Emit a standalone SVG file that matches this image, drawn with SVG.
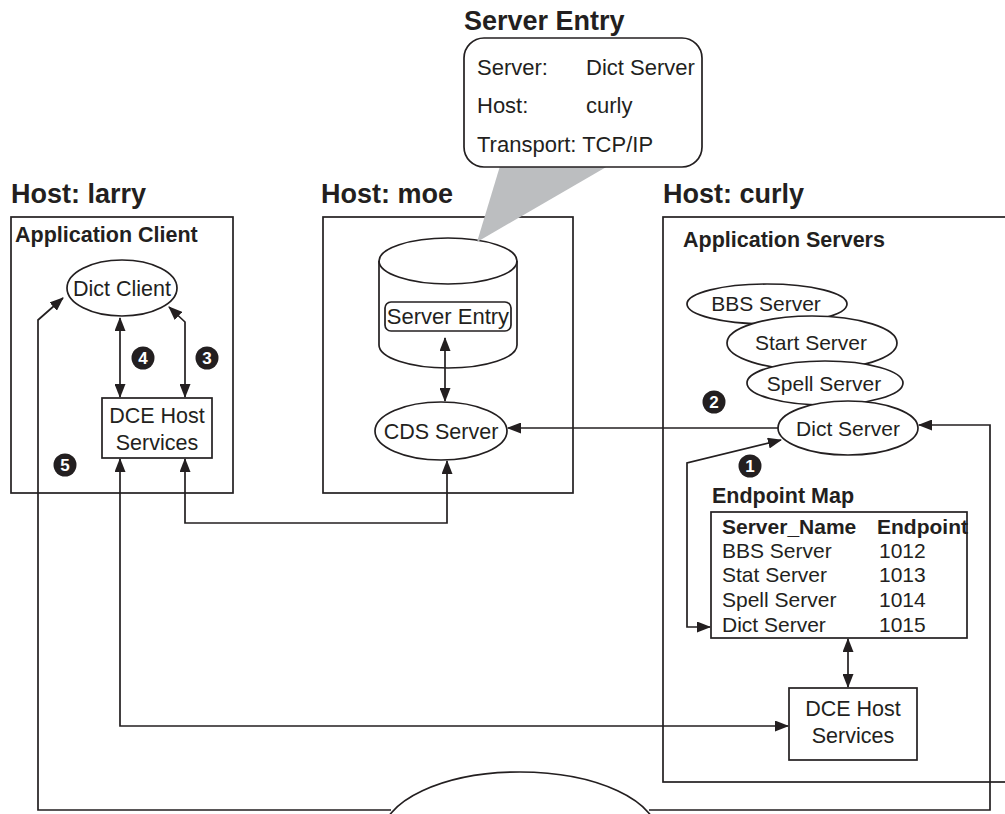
<svg xmlns="http://www.w3.org/2000/svg" width="1005" height="814" viewBox="0 0 1005 814">
<style>
text{font-family:"Liberation Sans",Arial,sans-serif;fill:#231f20}
.t{font-size:27px;font-weight:bold}
.h{font-size:21.5px;font-weight:bold}
.n{font-size:21px}
.k{font-size:22px}
.m{text-anchor:middle}
.b{fill:#fff;stroke:#231f20;stroke-width:1.7}
.c{fill:none;stroke:#231f20;stroke-width:1.7}
.badge circle{fill:#231f20}
.badge text{fill:#fff;font-size:17px;font-weight:bold;text-anchor:middle}
</style>
<defs>
<marker id="ah" viewBox="0 0 14 11" refX="13" refY="5.5" markerWidth="14" markerHeight="11" markerUnits="userSpaceOnUse" orient="auto-start-reverse">
<path d="M0,0 L14,5.5 L0,11 Z" fill="#231f20"/>
</marker>
</defs>
<rect width="1005" height="814" fill="#fff"/>

<g id="host-larry">
<text class="t" x="11" y="203">Host: larry</text>
<rect class="b" x="11" y="217" width="222" height="276"/>
<text class="h" x="15" y="242">Application Client</text>
</g>
<g id="host-moe">
<text class="t" x="321" y="203">Host: moe</text>
<rect class="b" x="323" y="217" width="250" height="276"/>
</g>
<g id="host-curly">
<text class="t" x="663" y="203">Host: curly</text>
<rect class="b" x="663" y="217" width="360" height="565"/>
<text class="h" x="683" y="247">Application Servers</text>
</g>

<g id="cds-db">
<path class="b" d="M379,261 L379,345 A69,23 0 0 0 517,345 L517,261 A69,23 0 0 0 379,261 Z"/>
<path class="c" d="M379,261 A69,23 0 0 0 517,261"/>
<rect class="b" x="385" y="302" width="126" height="29" rx="6"/>
<text class="m" x="448" y="324" font-size="22">Server Entry</text>
</g>

<g id="server-entry-callout">
<text class="t" x="464" y="30">Server Entry</text>
<polygon points="500,166 608,166 477,242" fill="#bcbec0"/>
<rect class="b" x="464" y="38" width="238" height="129" rx="20"/>
<text class="k" x="477" y="75">Server:</text>
<text class="k" x="586" y="75">Dict Server</text>
<text class="k" x="477" y="113">Host:</text>
<text class="k" x="586" y="113">curly</text>
<text class="k" x="477" y="152">Transport: TCP/IP</text>
</g>

<g id="network">
<ellipse class="b" cx="520" cy="836" rx="138" ry="64"/>
</g>

<g id="connectors" class="c">
<path d="M120,318 L120,397" marker-start="url(#ah)" marker-end="url(#ah)"/>
<path d="M169,307 L185,322 L185,397" marker-start="url(#ah)" marker-end="url(#ah)"/>
<path d="M391,810 L38,810 L38,320 L63,298" marker-end="url(#ah)"/>
<path d="M185,459 L185,523 L447,523 L447,461" marker-start="url(#ah)" marker-end="url(#ah)"/>
<path d="M120,459 L120,726 L788,726" marker-start="url(#ah)" marker-end="url(#ah)"/>
<path d="M445,338 L445,401" marker-start="url(#ah)" marker-end="url(#ah)"/>
<path d="M778,428 L508,428" marker-end="url(#ah)"/>
<path d="M649,810 L990,810 L990,425 L919,425" marker-end="url(#ah)"/>
<path d="M781,440 L687,463 L687,627 L710,627" marker-start="url(#ah)" marker-end="url(#ah)"/>
<path d="M848,639 L848,687" marker-start="url(#ah)" marker-end="url(#ah)"/>
</g>

<g id="dict-client">
<ellipse class="b" cx="122" cy="288" rx="55" ry="28"/>
<text class="m" x="122" y="296" font-size="21.5">Dict Client</text>
</g>
<g id="dce-larry">
<rect class="b" x="102" y="398" width="110" height="60"/>
<text class="m" x="157" y="423" font-size="21.5">DCE Host</text>
<text class="m" x="157" y="450" font-size="21.5">Services</text>
</g>
<g id="cds-server">
<ellipse class="b" cx="441" cy="431" rx="66" ry="29"/>
<text class="m" x="441" y="439" font-size="21.5">CDS Server</text>
</g>

<g id="bbs-server">
<ellipse class="b" cx="767" cy="304" rx="80" ry="20"/>
<text class="n m" x="766" y="311">BBS Server</text>
</g>
<g id="start-server">
<ellipse class="b" cx="812" cy="343" rx="85" ry="27"/>
<text class="n m" x="811" y="350">Start Server</text>
</g>
<g id="spell-server">
<ellipse class="b" cx="825" cy="383" rx="78" ry="22"/>
<text class="n m" x="824" y="391">Spell Server</text>
</g>
<g id="dict-server">
<ellipse class="b" cx="848" cy="428" rx="70" ry="27"/>
<text class="n m" x="848" y="436">Dict Server</text>
</g>

<g id="endpoint-map">
<text class="h" x="712" y="503">Endpoint Map</text>
<rect class="b" x="711" y="512" width="256" height="126"/>
<text class="n" x="722" y="534" font-weight="bold" font-size="20.5">Server_Name</text>
<text class="n" x="877" y="534" font-weight="bold" font-size="20.5">Endpoint</text>
<text class="n" x="722" y="558">BBS Server</text>
<text class="n" x="879" y="558">1012</text>
<text class="n" x="722" y="582">Stat Server</text>
<text class="n" x="879" y="582">1013</text>
<text class="n" x="722" y="607">Spell Server</text>
<text class="n" x="879" y="607">1014</text>
<text class="n" x="722" y="632">Dict Server</text>
<text class="n" x="879" y="632">1015</text>
</g>
<g id="dce-curly">
<rect class="b" x="789" y="688" width="128" height="72"/>
<text class="m" x="853" y="716" font-size="21.5">DCE Host</text>
<text class="m" x="853" y="743" font-size="21.5">Services</text>
</g>

<g id="badges" class="badge">
<circle cx="750" cy="466" r="11.5"/><text x="750" y="472">1</text>
<circle cx="714" cy="402" r="11.5"/><text x="714" y="408">2</text>
<circle cx="207" cy="358" r="11.5"/><text x="207" y="364">3</text>
<circle cx="143" cy="358" r="11.5"/><text x="143" y="364">4</text>
<circle cx="65" cy="465" r="11.5"/><text x="65" y="471">5</text>
</g>
</svg>
